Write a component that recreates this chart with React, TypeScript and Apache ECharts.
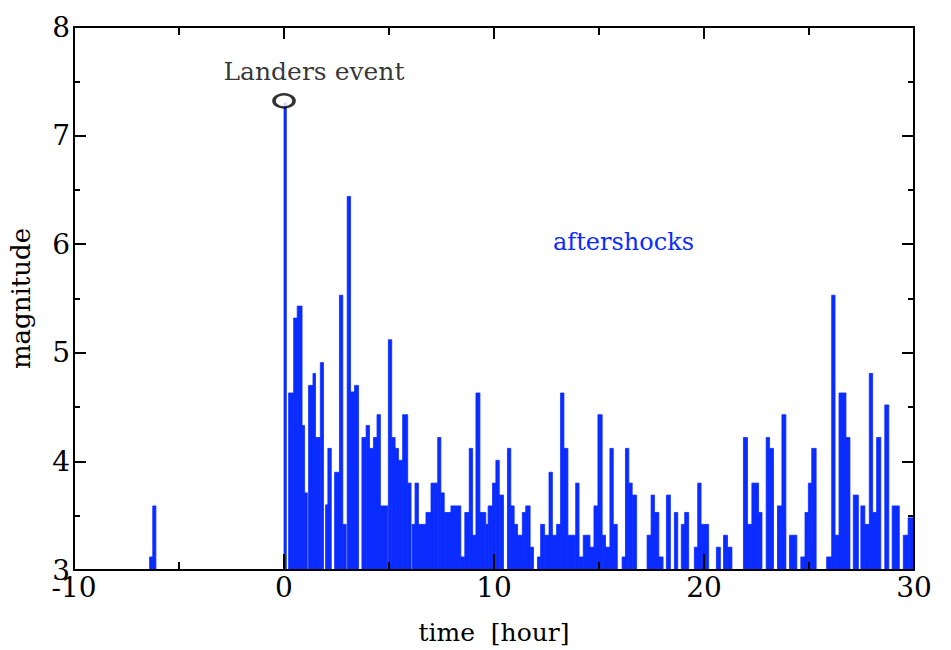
import React, { useEffect, useRef } from "react";
import * as echarts from "echarts";

// Step profile of magnitudes: segment i spans [boundaries[i], boundaries[i+1]] with magnitude mags[i] (null = below 3, empty)
const boundaries: number[] = [
  -6.4, -6.25, -6.1,
  0, 0.11, 0.22, 0.46, 0.63, 0.86, 0.98, 1.11, 1.17, 1.38, 1.5, 1.73, 1.88, 1.98, 2.09, 2.25, 2.41, 2.64, 2.8, 2.96,
  3.01, 3.17, 3.36, 3.55, 3.71, 3.91, 4.07, 4.26, 4.43, 4.59, 4.94, 4.97, 5.13, 5.29, 5.45, 5.65, 5.89, 6.05, 6.1,
  6.24, 6.4, 6.76, 7.0, 7.32, 7.47, 7.63, 7.95, 8.42, 8.61, 8.82, 8.98, 9.14, 9.33, 9.61, 9.72, 9.93, 10.09, 10.25,
  10.45, 10.64, 10.8, 10.96, 11.12, 11.35, 11.51, 11.72, 11.88, 12.07, 12.22, 12.41, 12.62, 12.78, 12.98, 13.17,
  13.33, 13.52, 13.89, 14.05, 14.25, 14.57, 14.76, 14.95, 15.15, 15.31, 15.52, 15.68, 15.87, 16.1, 16.26, 16.42,
  16.58, 16.79, 17.29, 17.48, 17.64, 17.85, 18.05, 18.21, 18.4, 18.59, 18.75, 18.92, 19.08, 19.27, 19.54, 19.7,
  19.86, 20.22, 20.59, 20.78, 20.93, 21.12, 21.33, 21.88, 22.07, 22.28, 22.6, 22.76, 22.96, 23.12, 23.31, 23.5,
  23.71, 23.9, 24.07, 24.42, 24.61, 24.81, 24.97, 25.13, 25.34, 25.84, 26.08, 26.24, 26.43, 26.76, 26.95, 27.11,
  27.35, 27.47, 27.66, 27.87, 28.03, 28.22, 28.42, 28.61, 28.8, 28.96, 29.3, 29.49, 29.72, 30.0,
];

const mags: (number | null)[] = [
  3.12, 3.59, null,
  7.3, null, 4.63, 5.32, 5.43, 4.33, 3.71, null, 4.7, 4.81, 4.22, 4.91, null, 3.6, 4.12, null, 3.9, 5.53, 3.42, null,
  6.44, 4.64, 4.7, null, 4.22, 4.33, 4.12, 4.22, 4.43, 3.59, null, 5.12, 4.22, 4.12, 4.01, 4.43, 3.8, null, 3.42,
  3.8, 3.42, 3.53, 3.8, 4.22, 3.71, 3.53, 3.59, 3.12, 3.53, 4.12, 3.32, 4.63, 3.53, 3.42, 3.59, 3.8, 4.01, 3.69,
  null, 4.12, 3.59, 3.42, 3.32, 3.53, 3.59, 3.21, null, 3.12, 3.42, 3.32, 3.9, 3.32, 3.42, 4.63,
  4.12, 3.32, 3.8, 3.12, 3.32, 3.21, 3.59, 4.43, 3.32, 3.21, 4.12, 3.42, null, 3.12, 4.12, 3.8,
  3.69, null, 3.32, 3.69, 3.53, 3.12, null, 3.69, null, 3.53, null, 3.42, 3.53, null, 3.21, 3.8,
  3.42, null, 3.21, null, 3.32, 3.21, null, 4.22, 3.42, 3.8, 3.53, null, 4.22, 4.12, null, 3.59,
  4.43, null, 3.32, null, 3.12, 3.53, 3.8, 4.12, null, 3.12, 5.53, 3.32, 4.63, 4.22, null, 3.69,
  null, 3.59, 3.42, 4.81, 3.53, 4.22, null, 4.52, null, 3.59, null, 3.32, 3.48,
];

const eventTime = 0;
const eventMag = 7.32;
const eventLabel = "Landers event";
const aftershockLabel = "aftershocks";

const xMin = -10;
const xMax = 30;
const yMin = 3;
const yMax = 8;

const FONT = "DejaVu Serif";
const BLUE = "#0b2cff";

export default function App() {
  const ref = useRef<HTMLDivElement>(null);

  useEffect(() => {
    if (!ref.current) return;
    const chart = echarts.init(ref.current, undefined, { renderer: "svg" });

    const segs: [number, number, number][] = [];
    for (let i = 0; i < mags.length; i++) {
      const m = mags[i];
      if (m !== null && m !== undefined) segs.push([boundaries[i], boundaries[i + 1], m]);
    }

    const axisLine = { show: true, onZero: false, lineStyle: { color: "#000", width: 2 } };

    const option: any = {
      animation: false,
      backgroundColor: "#ffffff",
      grid: { left: 72, right: 37, top: 27, bottom: 70, containLabel: false },
      xAxis: [
        {
          type: "value",
          position: "bottom",
          min: xMin,
          max: xMax,
          interval: 10,
          z: 10,
          axisLine,
          axisTick: { show: true, inside: true, length: 16, lineStyle: { color: "#000", width: 2 } },
          minorTick: { show: true, splitNumber: 2, length: 8, lineStyle: { color: "#000", width: 2 } },
          splitLine: { show: false },
          axisLabel: { fontFamily: FONT, fontSize: 28, color: "#000", margin: 3 },
          name: "time  [hour]",
          nameLocation: "middle",
          nameGap: 50,
          nameTextStyle: { fontFamily: FONT, fontSize: 25, color: "#000" },
        },
        {
          type: "value",
          position: "top",
          min: xMin,
          max: xMax,
          interval: 10,
          z: 10,
          axisLine,
          axisTick: { show: true, inside: true, length: 12, lineStyle: { color: "#000", width: 2 } },
          minorTick: { show: true, splitNumber: 2, length: 8, lineStyle: { color: "#000", width: 2 } },
          splitLine: { show: false },
          axisLabel: { show: false },
        },
      ],
      yAxis: [
        {
          type: "value",
          position: "left",
          min: yMin,
          max: yMax,
          interval: 1,
          z: 10,
          axisLine,
          axisTick: { show: true, inside: true, length: 12, lineStyle: { color: "#000", width: 2 } },
          minorTick: { show: true, splitNumber: 2, length: 6, lineStyle: { color: "#000", width: 2 } },
          splitLine: { show: false },
          axisLabel: { fontFamily: FONT, fontSize: 28, color: "#000", margin: 4 },
          name: "magnitude",
          nameLocation: "middle",
          nameGap: 40,
          nameTextStyle: { fontFamily: FONT, fontSize: 26, color: "#000" },
        },
        {
          type: "value",
          position: "right",
          min: yMin,
          max: yMax,
          interval: 1,
          z: 10,
          axisLine,
          axisTick: { show: true, inside: true, length: 12, lineStyle: { color: "#000", width: 2 } },
          minorTick: { show: true, splitNumber: 2, length: 6, lineStyle: { color: "#000", width: 2 } },
          splitLine: { show: false },
          axisLabel: { show: false },
        },
      ],
      series: [
        {
          type: "custom",
          xAxisIndex: 0,
          yAxisIndex: 0,
          clip: true,
          encode: { x: [0, 1], y: 2 },
          data: segs,
          renderItem: (params: any, api: any) => {
            const s = api.value(0);
            const e = api.value(1);
            const m = api.value(2);
            const p0 = api.coord([s, yMin]);
            const p1 = api.coord([e, m]);
            return {
              type: "rect",
              shape: { x: p0[0], y: p1[1], width: Math.max(1, p1[0] - p0[0]), height: p0[1] - p1[1] },
              style: { fill: BLUE, stroke: BLUE, lineWidth: 0.8 },
            };
          },
          z: 2,
        },
        {
          type: "scatter",
          xAxisIndex: 0,
          yAxisIndex: 0,
          data: [[eventTime, eventMag]],
          symbol: "circle",
          symbolSize: [20, 13],
          itemStyle: { color: "#ffffff", borderColor: "#000", borderWidth: 3 },
          label: {
            show: true,
            formatter: eventLabel,
            position: "top",
            distance: 9,
            offset: [30, 0],
            fontFamily: FONT,
            fontSize: 25,
            color: "#000",
          },
          z: 5,
        },
      ],
      graphic: [
        {
          type: "text",
          left: 553,
          top: 230,
          style: { text: aftershockLabel, fontFamily: FONT, fontSize: 24, fill: BLUE },
        },
      ],
    };

    chart.setOption(option);
    return () => chart.dispose();
  }, []);

  return (
    <div
      ref={ref}
      style={{ position: "fixed", left: 0, top: 0, width: 951, height: 650, background: "#fff" }}
    />
  );
}
